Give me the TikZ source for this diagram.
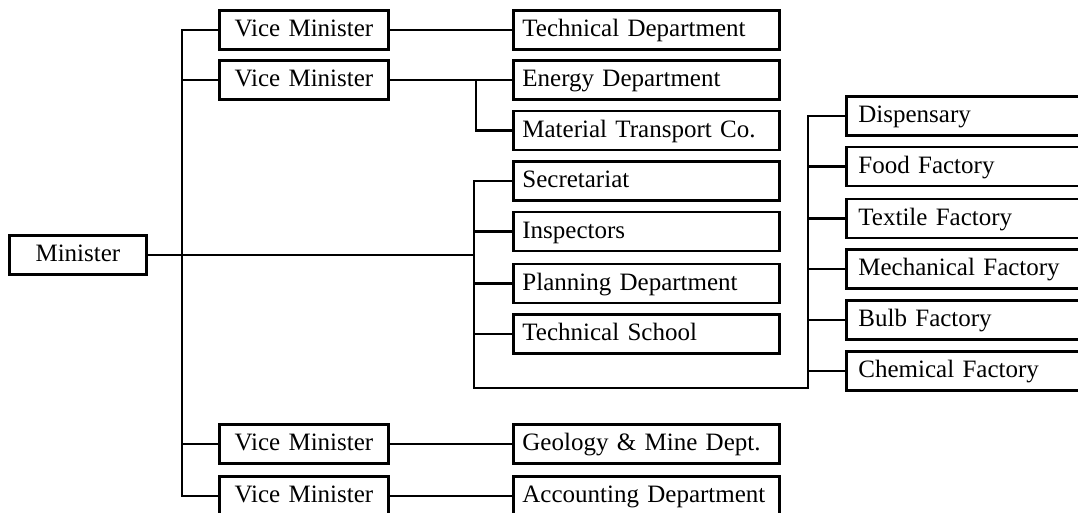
\documentclass[tikz,border=0pt]{standalone}
\usepackage{fontspec}
\setmainfont{Liberation Serif}
\usetikzlibrary{calc}

\begin{document}
\begin{tikzpicture}[x=0.5pt, y=-0.5pt,
		unit/.style={draw, line width=1.4pt, rectangle, anchor=west, minimum height=19.5pt,
			inner ysep=0pt, text height=0.8em, text depth=0.12em, font=\fontsize{12.5}{14}\selectfont},
		link/.style={line width=1.2pt}]
	\def\xVM{218};
	\def\xDEPT{512};
	\def\xFAC{845};

	\useasboundingbox (0,0) rectangle (1078,513);
	\clip (0,0) rectangle (1078,513);

	\begin{scope}
		\node [unit, inner xsep=4pt, text width=60.5pt, align=center] (min) at (8,255) {Minister};
	\end{scope}

	\begin{scope}[every node/.append style={unit, inner xsep=4pt, text width=76.5pt, align=center}]
		\node (vm1) at (\xVM,30) {Vice Minister};
		\node (vm2) at (\xVM,80) {Vice Minister};
		\node (vm3) at (\xVM,444) {Vice Minister};
		\node (vm4) at (\xVM,496) {Vice Minister};
	\end{scope}

	\begin{scope}[every node/.append style={unit, inner xsep=4.5pt, text width=124pt, align=left}]
		\node (tech) at (\xDEPT,30) {Technical Department};
		\node (energy) at (\xDEPT,80) {Energy Department};
		\node (mat) at (\xDEPT,130.5) {Material Transport Co.};
		\node (sec) at (\xDEPT,181) {Secretariat};
		\node (insp) at (\xDEPT,231.5) {Inspectors};
		\node (plan) at (\xDEPT,283.5) {Planning Department};
		\node (school) at (\xDEPT,334) {Technical School};
		\node (geo) at (\xDEPT,444) {Geology \& Mine Dept.};
		\node (acc) at (\xDEPT,496) {Accounting Department};
	\end{scope}

	\begin{scope}[every node/.append style={unit, inner xsep=6pt, text width=138pt, align=left}]
		\node (disp) at (\xFAC,116) {Dispensary};
		\node (food) at (\xFAC,166.5) {Food Factory};
		\node (textile) at (\xFAC,218.5) {Textile Factory};
		\node (mech) at (\xFAC,269) {Mechanical Factory};
		\node (bulb) at (\xFAC,320) {Bulb Factory};
		\node (chem) at (\xFAC,371) {Chemical Factory};
	\end{scope}

	\coordinate (spine) at (182,0);
	\coordinate (enbar) at (476,0);
	\coordinate (loop) at (474,388);
	\coordinate (facbar) at (808,0);

	\begin{scope}[link]
		\draw (vm1.west) -| (spine |- vm4.west) -- (vm4.west);
		\foreach \n in {vm2, vm3}
			\draw (\n.west) -- (\n.west -| spine);

		\draw (vm1.east) -- (tech.west);
		\draw (vm2.east) -- (energy.west);
		\draw (energy.west -| enbar) |- (mat.west);
		\draw (vm3.east) -- (geo.west);
		\draw (vm4.east) -- (acc.west);

		\draw (min.east) -- (min.east -| loop);
		\draw (sec.west) -| (loop) -| (facbar |- disp.west) -- (disp.west);
		\foreach \n in {insp, plan, school}
			\draw (\n.west) -- (\n.west -| loop);
		\foreach \n in {food, textile, mech, bulb, chem}
			\draw (\n.west) -- (\n.west -| facbar);
	\end{scope}
\end{tikzpicture}
\end{document}
